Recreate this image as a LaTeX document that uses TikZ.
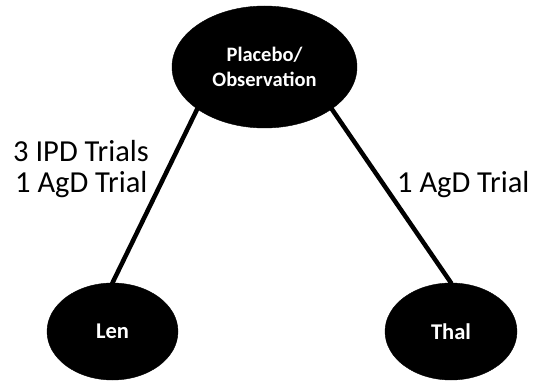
\documentclass[tikz,border=0pt]{standalone}
\usepackage{fontspec}
\setmainfont{Carlito}
\usetikzlibrary{shapes.geometric}
\begin{document}
\begin{tikzpicture}[x=1pt,y=-1pt,
  arm/.style={ellipse,fill=black,draw=black,inner sep=0pt,text=white,font=\bfseries},
  link/.style={line width=4.5pt,black,shorten <=-1pt,shorten >=-1pt},
  lbl/.style={font=\fontsize{30.5}{31}\selectfont,inner sep=0pt,align=center}]
  \useasboundingbox (0,0) rectangle (533,382);
  % treatment nodes
  \node[arm,minimum width=185pt,minimum height=122pt,align=center,
        font=\bfseries\fontsize{20.5}{25}\selectfont] (pbo) at (264.5,67) {Placebo/\\Observation};
  \node[arm,minimum width=131pt,minimum height=97pt,
        font=\bfseries\fontsize{22.5}{26}\selectfont] (len) at (112.5,331.5) {Len};
  \node[arm,minimum width=132pt,minimum height=97pt,
        font=\bfseries\fontsize{22.5}{26}\selectfont] (thal) at (451,331.5) {Thal};
  % evidence connections
  \draw[link] (pbo.212) -- (len.north);
  \draw[link] (pbo.328) -- (thal.north);
  % evidence labels
  \node[lbl,anchor=base west] (l1) at (13,162) {3 IPD Trials};
  \node[lbl,anchor=base west] (l2) at (15,193) {1 AgD Trial};
  \node[lbl,anchor=base west] (r1) at (397,193) {1 AgD Trial};
\end{tikzpicture}
\end{document}
